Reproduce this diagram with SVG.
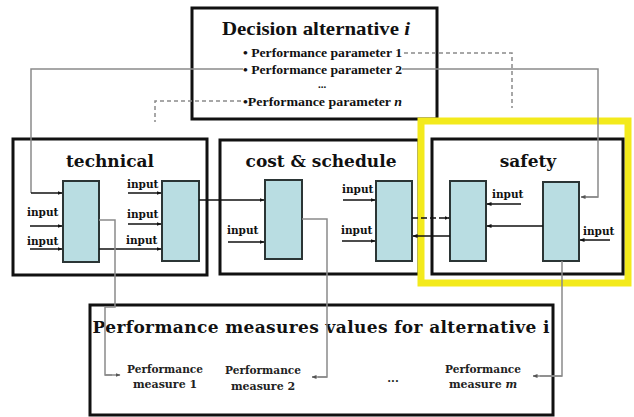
<svg xmlns="http://www.w3.org/2000/svg" width="634" height="417" viewBox="0 0 634 417">
<defs>
<marker id="ah" viewBox="0 0 10 10" refX="9" refY="5" markerWidth="5" markerHeight="5" orient="auto" markerUnits="userSpaceOnUse">
<path d="M0,1 L10,5 L0,9 z" fill="#111"/>
</marker>
<marker id="ag" viewBox="0 0 10 10" refX="9" refY="5" markerWidth="5" markerHeight="5" orient="auto" markerUnits="userSpaceOnUse">
<path d="M0,1 L10,5 L0,9 z" fill="#555"/>
</marker>
</defs>
<style>
.frame{fill:#fff;stroke:#111;stroke-width:3}
.blk{fill:#b9dde2;stroke:#2b3535;stroke-width:2}
.ttl{font-family:"DejaVu Serif",serif;font-weight:bold;font-size:17px;fill:#111;text-anchor:middle}
.top{font-family:"Liberation Serif",serif;font-weight:bold;fill:#111}
.inp{font-family:"DejaVu Serif",serif;font-weight:bold;font-size:10.5px;fill:#111}
.pm{font-family:"DejaVu Serif",serif;font-weight:bold;font-size:11px;fill:#222;text-anchor:middle}
.g{fill:none;stroke:#8a8a8a;stroke-width:1.5}
.gd{fill:none;stroke:#8a8a8a;stroke-width:1.5;stroke-dasharray:4,3}
.a{fill:none;stroke:#111;stroke-width:1.5;marker-end:url(#ah)}
.ad{fill:none;stroke:#111;stroke-width:1.5;stroke-dasharray:6,3;marker-end:url(#ah)}
.ga{fill:none;stroke:#8a8a8a;stroke-width:1.5;marker-end:url(#ag)}
</style>
<rect width="634" height="417" fill="#fff"/>

<g id="decision">
<rect class="frame" x="192" y="8" width="245" height="111"/>
<text class="top" x="316" y="35" font-size="19" text-anchor="middle" textLength="188" lengthAdjust="spacingAndGlyphs">Decision alternative <tspan font-style="italic">i</tspan></text>
<text class="top" x="243" y="57" font-size="13.5" textLength="159" lengthAdjust="spacingAndGlyphs">• Performance parameter 1</text>
<text class="top" x="243" y="74" font-size="13.5" textLength="159" lengthAdjust="spacingAndGlyphs">• Performance parameter 2</text>
<text class="top" x="322" y="88" font-size="11" text-anchor="middle">...</text>
<text class="top" x="243" y="106" font-size="13.5" textLength="159" lengthAdjust="spacingAndGlyphs">•Performance parameter <tspan font-style="italic">n</tspan></text>
</g>

<g id="technical">
<rect class="frame" x="13" y="139" width="194" height="136"/>
<text class="ttl" x="110" y="167">technical</text>
<rect class="blk" x="63" y="181" width="36" height="81"/>
<rect class="blk" x="162" y="181" width="37" height="80"/>
<text class="inp" x="27" y="216">input</text>
<text class="inp" x="27" y="245">input</text>
<text class="inp" x="127" y="188">input</text>
<text class="inp" x="127" y="218">input</text>
<text class="inp" x="126" y="244">input</text>
</g>

<g id="cost">
<rect class="frame" x="220" y="140" width="199" height="134"/>
<text class="ttl" x="321" y="167">cost &amp; schedule</text>
<rect class="blk" x="265" y="180" width="37" height="79"/>
<rect class="blk" x="376" y="181" width="36" height="80"/>
<text class="inp" x="227" y="234">input</text>
<text class="inp" x="342" y="193">input</text>
<text class="inp" x="341" y="234">input</text>
</g>

<g id="highlight">
<rect x="421" y="121" width="207" height="162" fill="none" stroke="#f3ea1c" stroke-width="7"/>
</g>

<g id="safety">
<rect class="frame" x="432" y="139" width="191" height="135"/>
<text class="ttl" x="528" y="167">safety</text>
<rect class="blk" x="450" y="181" width="36" height="80"/>
<rect class="blk" x="543" y="182" width="36" height="79"/>
<text class="inp" x="492" y="198">input</text>
<text class="inp" x="583" y="235">input</text>
</g>

<g id="measures">
<rect class="frame" x="90" y="305" width="463" height="110"/>
<text class="ttl" x="321" y="333" font-size="18" textLength="457">Performance measures values for alternative i</text>
<text class="pm" x="165" y="373" textLength="76" lengthAdjust="spacingAndGlyphs">Performance</text>
<text class="pm" x="165" y="388">measure 1</text>
<text class="pm" x="263" y="374" textLength="76" lengthAdjust="spacingAndGlyphs">Performance</text>
<text class="pm" x="263" y="390">measure 2</text>
<text class="pm" x="393" y="382">...</text>
<text class="pm" x="483" y="373" textLength="76" lengthAdjust="spacingAndGlyphs">Performance</text>
<text class="pm" x="483" y="388">measure <tspan font-style="italic">m</tspan></text>
</g>

<g id="connectors">
<path class="g" d="M243,69 H31 V193"/>
<path class="a" d="M31,193 H62"/>
<path class="g" d="M402,69 H598 V197 H584"/>
<path class="ga" d="M598,197 H581"/>
<path class="gd" d="M404,53 H512 V108"/>
<path class="gd" d="M241,101 H155 V122"/>
<path class="a" d="M30,226 H62"/>
<path class="a" d="M30,249 H62"/>
<path class="a" d="M128,193 H161"/>
<path class="a" d="M128,224 H161"/>
<path class="a" d="M99,249 H161"/>
<path class="a" d="M199,200 H264"/>
<path class="g" d="M99,220 H115 V307 H105 V375 H112"/>
<path class="ga" d="M105,375 H120"/>
<path class="a" d="M228,242 H264"/>
<path class="a" d="M343,200 H375"/>
<path class="a" d="M342,241 H375"/>
<path class="g" d="M302,219 H327 V377 H318"/>
<path class="ga" d="M327,377 H312"/>
<path class="ad" d="M412,218 H449"/>
<path class="a" d="M450,236 H413"/>
<path class="a" d="M521,204 H487"/>
<path class="a" d="M543,226 H487"/>
<path class="a" d="M610,240 H580"/>
<path class="g" d="M562,261 V376 H540"/>
<path class="ga" d="M562,376 H533"/>
</g>
</svg>
